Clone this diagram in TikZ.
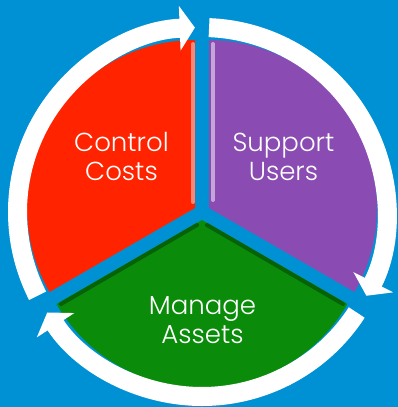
\documentclass[tikz,border=0pt]{standalone}
\usepackage{fontspec}
\newfontfamily\cyclefont{Poppins}[UprightFont = * Light]
\usetikzlibrary{arrows.meta}
\definecolor{bgblue}{HTML}{0091D4}
\definecolor{costred}{HTML}{FF2300}
\definecolor{userpurple}{HTML}{8A4CB2}
\definecolor{assetgreen}{HTML}{0A8C0A}
\begin{document}
\begin{tikzpicture}[
  x = 0.025cm,
  y = 0.025cm,
  ring/.style = {
    draw = white,
    line width = 0.475cm,
    -{Triangle[length = 0.38cm, width = 1.1cm]}
  },
  word/.style = {
    text = white,
    align = center,
    font = \cyclefont\fontsize{18.5}{20.5}\selectfont
  },
  bevel/.style = {
    line width = 0.1cm,
    line cap = round
  }
]
  \fill[bgblue] (-202, -195) rectangle (196, 212);
  \useasboundingbox (-202, -195) rectangle (196, 212);

  % the three slices, pulled apart a little
  \fill[costred] (-7, 4) -- ++(90:168)
    arc[start angle = 90, end angle = 210, radius = 168] -- cycle;
  \fill[userpurple] (7, 4) -- ++(-30:168)
    arc[start angle = -30, end angle = 90, radius = 168] -- cycle;
  \fill[assetgreen] (0, -8) -- ++(210:168)
    arc[start angle = 210, end angle = 330, radius = 168] -- cycle;

  % light and dark edges
  \draw[bevel, costred!55!white] (-9, 10) -- (-9, 168);
  \draw[bevel, userpurple!50!white] (11, 12) -- (11, 168);
  \draw[bevel, assetgreen!70!black] (-5, -13) -- (-141, -92);
  \draw[bevel, assetgreen!70!black] (5, -13) -- (141, -92);

  % arrows round the outside
  \draw[ring] (207:184.5) arc[start angle = 207, end angle = 92.2, radius = 184.5];
  \draw[ring] (87.8:184.5) arc[start angle = 87.8, end angle = -27, radius = 184.5];
  \draw[ring] (-33:184.5) arc[start angle = -33, end angle = -147, radius = 184.5];

  \node[word] (costs) at (-80.5, 55.5) {Control\\Costs};
  \node[word] (users) at (81.5, 55.5) {Support\\Users};
  \node[word] (assets) at (0.5, -108.5) {Manage\\Assets};
\end{tikzpicture}
\end{document}
